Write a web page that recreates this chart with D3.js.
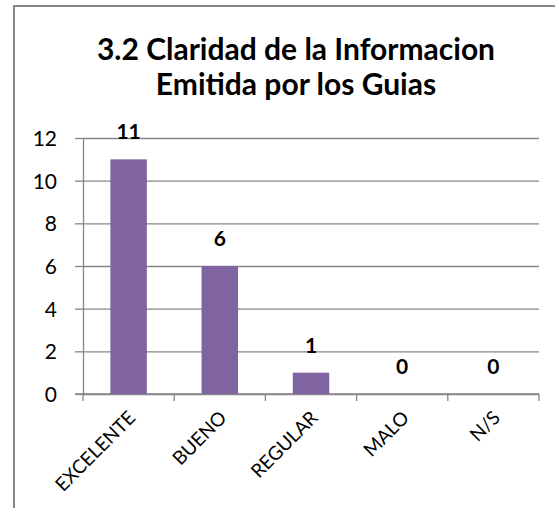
<!DOCTYPE html>
<html>
<head>
<meta charset="utf-8">
<script src="https://cdn.jsdelivr.net/npm/d3@7"></script>
<style>
  body { margin: 0; background: #fff; }
  #chart text { font-family: "Lato", "Open Sans", sans-serif; fill: #000; }
</style>
</head>
<body>
<div id="chart"></div>
<script>
// data
const categories = ["EXCELENTE", "BUENO", "REGULAR", "MALO", "N/S"];
const counts = [11, 6, 1, 0, 0];
const yTicks = [0, 2, 4, 6, 8, 10, 12];
const titleLines = ["3.2 Claridad de la Informacion", "Emitida por los Guias"];

makeChart();

function makeChart() {
    const margin = {top: 138, right: 16, bottom: 114, left: 83},
    width = 555 - margin.left - margin.right,
    height = 508 - margin.top - margin.bottom;

    const svg = d3.select("#chart")
    .html(null)
    .append("svg")
    .attr("width", 555)
    .attr("height", 508);

    // chart frame (only the top / left edges fall inside the picture)
    svg.append("rect")
    .attr("x", 14)
    .attr("y", 6)
    .attr("width", 700)
    .attr("height", 700)
    .attr("fill", "none")
    .attr("stroke", "#868686")
    .attr("stroke-width", 2);

    // title
    svg.append("text")
    .attr("text-anchor", "middle")
    .style("font-weight", "bold")
    .style("font-size", "30px")
    .selectAll("tspan")
    .data(titleLines)
    .join("tspan")
        .attr("x", 296)
        .attr("y", (d, i) => 60 + i * 35)
        .text(d => d);

    const g = svg.append("g")
    .attr("transform", `translate(${margin.left}, ${margin.top})`);

    const x = d3.scaleBand()
    .domain(categories)
    .range([0, width]);

    const xBar = d3.scaleBand()
    .domain(categories)
    .range([0, width])
    .paddingInner(0.6)
    .paddingOuter(0.3);

    const y = d3.scaleLinear()
    .domain([0, d3.max(yTicks)])
    .range([height, 0]);

    // gridlines
    const grid = g.append("g")
    .call(d3.axisLeft(y).tickValues(yTicks).tickSize(-width).tickFormat(""));
    grid.select(".domain").remove();
    grid.selectAll("line").attr("stroke", "#868686").attr("stroke-width", 1.3);

    // Y axis
    const yAxis = g.append("g")
    .call(d3.axisLeft(y).tickValues(yTicks).tickSizeInner(8).tickSizeOuter(0).tickPadding(18));
    yAxis.select(".domain").attr("stroke", "#868686").attr("stroke-width", 1.3);
    yAxis.selectAll("line").attr("stroke", "#868686").attr("stroke-width", 1.3);
    yAxis.selectAll("text").style("font-size", "21px").attr("dy", "0.36em");

    // X axis line + ticks between categories
    const xAxis = g.append("g")
    .attr("transform", `translate(0, ${height})`);
    xAxis.append("line")
    .attr("x1", -8)
    .attr("x2", width)
    .attr("stroke", "#868686")
    .attr("stroke-width", 1.3);
    const bounds = categories.map(c => x(c)).concat([x.range()[1]]);
    xAxis.selectAll(".xtick")
    .data(bounds)
    .join("line")
    .attr("class", "xtick")
    .attr("x1", d => d)
    .attr("x2", d => d)
    .attr("y1", 0)
    .attr("y2", 7)
    .attr("stroke", "#868686")
    .attr("stroke-width", 1.3);

    xAxis.selectAll(".xlabel")
    .data(categories)
    .join("text")
    .attr("class", "xlabel")
    .attr("text-anchor", "end")
    .style("font-size", "19px")
    .attr("transform", d => `translate(${x(d) + x.bandwidth() / 2 + 8}, 25)rotate(-45)`)
    .text(d => d);

    // bars
    g.selectAll(".bar")
    .data(categories)
    .join("rect")
    .attr("class", "bar")
    .attr("x", d => xBar(d))
    .attr("width", xBar.bandwidth())
    .attr("y", (d, i) => y(counts[i]))
    .attr("height", (d, i) => height - y(counts[i]))
    .attr("fill", "#8064A2");

    // value labels
    g.selectAll(".val")
    .data(categories)
    .join("text")
    .attr("class", "val")
    .attr("text-anchor", "middle")
    .style("font-weight", "bold")
    .style("font-size", "21px")
    .attr("x", d => x(d) + x.bandwidth() / 2)
    .attr("y", (d, i) => y(counts[i]) - 20)
    .text((d, i) => counts[i]);
}
</script>
</body>
</html>
